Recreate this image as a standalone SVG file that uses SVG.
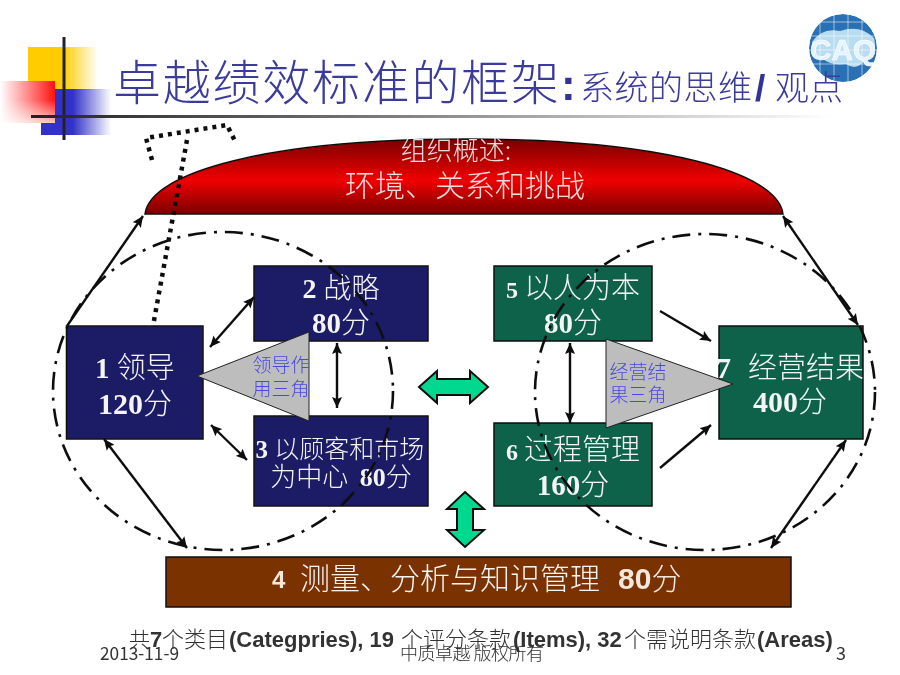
<svg xmlns="http://www.w3.org/2000/svg" width="900" height="675" viewBox="0 0 900 675">
<style>
text{font-family:"Noto Sans CJK SC","Liberation Sans",sans-serif}
.b{font-family:"Liberation Serif","Noto Sans CJK SC",serif;font-weight:700}
.s{font-family:"Liberation Sans","Noto Sans CJK SC",sans-serif;font-weight:700}
.w{fill:#f4f4f4;text-anchor:middle}
.t{font-weight:300}
.box{stroke:#111;stroke-width:1.5}
.navy{fill:#1a1a66}
.green{fill:#0a6248}
.tri{fill:#bdbdbd;stroke:#222;stroke-width:1}
.lab{fill:#4a4ae0;font-size:19px;text-anchor:middle;font-weight:300}
.ell{fill:none;stroke:#111;stroke-width:2.600;stroke-dasharray:18 8 3 8}
.ar{fill:none;stroke:#111;stroke-width:2.400;marker-end:url(#h);marker-start:url(#t)}
.ar1{fill:none;stroke:#111;stroke-width:2.400;marker-end:url(#h)}
.dot{fill:none;stroke:#111;stroke-width:4.500;stroke-dasharray:4 5}
.big{fill:#00d890;stroke:#111;stroke-width:2}
.foot{fill:#333;font-size:18px}
</style>
<defs>
<filter id="soft" x="0" y="0" width="1" height="1"><feGaussianBlur stdDeviation="0.45"/></filter>
<marker id="h" markerUnits="userSpaceOnUse" markerWidth="12" markerHeight="10" refX="11" refY="5" orient="auto"><path d="M0 0L11 5L0 10L2 5Z" fill="#111"/></marker>
<marker id="t" markerUnits="userSpaceOnUse" markerWidth="12" markerHeight="10" refX="1" refY="5" orient="auto"><path d="M12 0L1 5L12 10L10 5Z" fill="#111"/></marker>
<linearGradient id="gy"><stop offset=".5" stop-color="#ffcc00"/><stop offset="1" stop-color="#ffcc00" stop-opacity="0"/></linearGradient>
<linearGradient id="gb"><stop offset=".45" stop-color="#3030c8"/><stop offset="1" stop-color="#3030c8" stop-opacity="0"/></linearGradient>
<linearGradient id="gr"><stop offset="0" stop-color="#ff2020" stop-opacity="0"/><stop offset="1" stop-color="#ff1010"/></linearGradient>
<linearGradient id="gr2" x1="0" y1="0" x2="0" y2="1"><stop offset=".45" stop-color="#fff" stop-opacity="0"/><stop offset="1" stop-color="#fff" stop-opacity=".75"/></linearGradient>
<linearGradient id="gl"><stop offset="0" stop-color="#222"/><stop offset=".35" stop-color="#666"/><stop offset="1" stop-color="#fff"/></linearGradient>
<linearGradient id="gd" x1="0" y1="0" x2="0" y2="1"><stop offset="0" stop-color="#7a0000"/><stop offset=".55" stop-color="#f00000"/><stop offset="1" stop-color="#7a0000"/></linearGradient>
<clipPath id="cl"><circle cx="843" cy="48" r="34"/></clipPath>
</defs>
<rect width="900" height="675" fill="#fff"/>
<g filter="url(#soft)">
<g id="decor">
<rect x="28" y="47" width="70" height="43" fill="url(#gy)"/>
<rect x="41" y="89" width="70" height="46" fill="url(#gb)"/>
<rect x="0" y="81" width="55" height="42" fill="#fff"/>
<rect x="0" y="81" width="55" height="42" fill="url(#gr)"/>
<rect x="0" y="81" width="55" height="42" fill="url(#gr2)"/>
<rect x="62.500" y="37" width="3" height="103" fill="#222"/>
<rect x="31" y="115" width="800" height="3" fill="url(#gl)"/>
</g>

<g id="logo" clip-path="url(#cl)">
<circle cx="843" cy="48" r="34" fill="#2a70b4"/>
<path d="M812 42Q822 27 840 31Q860 24 874 38Q878 52 866 58Q858 72 846 64Q830 66 822 58Q812 54 812 42Z" fill="#b8dcf0"/>
<path d="M809 22H877M809 36H877M809 50H877M809 64H877M820 14V82M834 14V82M848 14V82M862 14V82" stroke="#fff" stroke-width="1" opacity=".55" fill="none"/>
<text x="843" y="60" text-anchor="middle" class="s" font-size="30" fill="#e8f4fb" stroke="#fff" stroke-width=".6" textLength="66" lengthAdjust="spacingAndGlyphs">CAQ</text>
</g>

<g id="title">
<text class="t" x="113" y="100" font-size="48" fill="#3a3a9c" textLength="446">卓越绩效标准的框架</text>
<text x="561" y="100" font-size="44" fill="#333399" class="s">:</text>
<text class="t" x="580" y="100" font-size="34" fill="#3a3a9c" textLength="172">系统的思维</text>
<text x="755" y="101" font-size="37" fill="#333399" class="s">/</text>
<text class="t" x="775" y="100" font-size="34" fill="#3a3a9c" textLength="68">观点</text>
</g>

<g id="node-context">
<path d="M145 214C150 172 270 139 465 139C660 139 778 172 783 214Z" fill="url(#gd)" stroke="#111" stroke-width="1.500"/>
<text class="w t" x="456" y="160" font-size="26" fill-opacity=".9">组织概述:</text>
<text class="w t" x="465" y="196" font-size="30" fill-opacity=".9">环境、关系和挑战</text>
</g>

<g id="node-1">
<rect class="box navy" x="66.500" y="326" width="136.500" height="113"/>
<text x="135" y="378" font-size="29" class="w t"><tspan class="b">1 </tspan>领导</text>
<text x="135" y="414" font-size="29" class="w t"><tspan class="b" font-size="30">120</tspan>分</text>
</g>
<g id="node-2">
<rect class="box navy" x="254" y="266" width="174" height="75"/>
<text x="341" y="298" font-size="28" class="w t"><tspan class="b">2 </tspan>战略</text>
<text x="341" y="333" font-size="29" class="w t"><tspan class="b">80</tspan>分</text>
</g>
<g id="node-3">
<rect class="box navy" x="254" y="416" width="174" height="90"/>
<text x="340" y="458" font-size="25" class="w t"><tspan class="b">3 </tspan>以顾客和市场</text>
<text x="341" y="486" font-size="26" class="w t" xml:space="preserve">为中心  <tspan class="b">80</tspan>分</text>
</g>
<g id="node-5">
<rect class="box green" x="494" y="266" width="158" height="75"/>
<text x="573" y="298" font-size="29" class="w t"><tspan class="b" font-size="24">5 </tspan>以人为本</text>
<text x="573" y="333" font-size="29" class="w t"><tspan class="b">80</tspan>分</text>
</g>
<g id="node-6">
<rect class="box green" x="494" y="423" width="158" height="83"/>
<text x="573" y="460" font-size="29" class="w t"><tspan class="b" font-size="24">6 </tspan>过程管理</text>
<text x="573" y="495" font-size="29" class="w t"><tspan class="b">160</tspan>分</text>
</g>
<g id="node-7">
<rect class="box green" x="719" y="326" width="144" height="113"/>
<text x="716" y="378" font-size="30" class="b" fill="#f4f4f4">7</text>
<text x="806" y="378" font-size="29" class="w t">经营结果</text>
<text x="790" y="412" font-size="29" class="w t"><tspan class="b" font-size="30">400</tspan>分</text>
</g>
<g id="node-4">
<rect class="box" fill="#7a3000" x="166" y="557" width="625" height="50"/>
<text x="272" y="588" font-size="24" class="s" fill="#f4e8dc">4</text>
<text x="450" y="589" font-size="30" class="w t" fill="#f4e8dc">测量、分析与知识管理</text>
<text x="618" y="589" font-size="30" fill="#f4e8dc"><tspan class="s">80</tspan><tspan class="t">分</tspan></text>
</g>

<g id="tri-left">
<path class="tri" d="M197 376L309 332V421Z"/>
<text class="lab" x="281" y="372">领导作</text>
<text class="lab" x="281" y="396">用三角</text>
</g>
<g id="tri-right">
<path class="tri" d="M606 339L733 384L606 428Z"/>
<text class="lab" x="638" y="379">经营结</text>
<text class="lab" x="638" y="402">果三角</text>
</g>

<g id="connectors">
<ellipse class="ell" cx="223" cy="391" rx="170" ry="159"/>
<ellipse class="ell" cx="705" cy="392" rx="170" ry="158"/>
<path class="ar1" d="M67 326L143 216"/>
<path class="ar" d="M104 439L187 548"/>
<path class="ar" d="M783 216L858 325"/>
<path class="ar" d="M846 440L771 548"/>
<path class="ar" d="M254 297L210 347"/>
<path class="ar" d="M211 425L247 460"/>
<path class="ar" d="M337 343V408"/>
<path class="ar" d="M570 343V423"/>
<path class="ar1" d="M660 311L711 341"/>
<path class="ar1" d="M660 468L711 425"/>
<path class="dot" d="M152 160L146 138L227 125L236 143"/>
<path class="dot" d="M187 140L153 326"/>
<path class="big" d="M419 387L437 371V379H470V371L488 387L470 403V395H437V403Z"/>
<path class="big" d="M465 492L484 509H473V530H484L465 547L447 530H457V509H447Z"/>
</g>

<g id="footer">
<text y="647" font-size="22" fill="#333"><tspan class="t" x="129" font-size="21">共</tspan><tspan class="s" x="150">7</tspan><tspan class="t" x="162">个类目</tspan><tspan class="s" x="229">(Categpries), 19</tspan><tspan class="t" x="401">个评分条款</tspan><tspan class="s" x="513">(Items), 32</tspan><tspan class="t" x="624">个需说明条款</tspan><tspan class="s" x="757">(Areas)</tspan></text>
<text class="foot" x="100" y="660" textLength="79" lengthAdjust="spacingAndGlyphs" font-family="Liberation Sans">2013-11-9</text>
<text class="foot t" x="400" y="660" textLength="144">中质卓越 版权所有</text>
<text class="foot" x="836" y="660">3</text>
</g>
</g>
</svg>
